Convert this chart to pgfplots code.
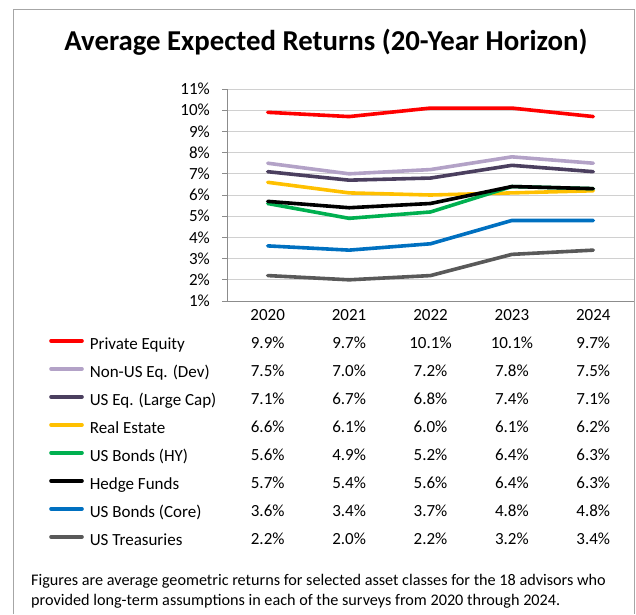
\documentclass[border=0pt]{standalone}
\usepackage{fontspec}
\setmainfont{Carlito}
\usepackage{pgfplots}
\usepackage{pgfplotstable}
\pgfplotsset{compat=1.18}
\definecolor{pe}{HTML}{FF0000}
\definecolor{nonus}{HTML}{B3A2C7}
\definecolor{useq}{HTML}{4B3F5F}
\definecolor{realest}{HTML}{FFC000}
\definecolor{hy}{HTML}{00B050}
\definecolor{hf}{HTML}{000000}
\definecolor{core}{HTML}{0070C0}
\definecolor{treas}{HTML}{595959}
\definecolor{gridc}{HTML}{D0D0D0}
\definecolor{axisc}{HTML}{8C8C8C}
\definecolor{framec}{HTML}{A6A6A6}

% returns in percent, x = 0..4 for 2020..2024
\pgfplotstableread{
x  pe   nonus useq realest hy  hf  core treas
0  9.9  7.5   7.1  6.6     5.6 5.7 3.6  2.2
1  9.7  7.0   6.7  6.1     4.9 5.4 3.4  2.0
2  10.1 7.2   6.8  6.0     5.2 5.6 3.7  2.2
3  10.1 7.8   7.4  6.1     6.4 6.4 4.8  3.2
4  9.7  7.5   7.1  6.2     6.3 6.3 4.8  3.4
}\returns

\begin{document}
\begin{tikzpicture}[x=1pt,y=1pt]
\useasboundingbox (0,0) rectangle (636,-614);
% chart frame (bottom edge is cut off in the reference)
\draw[framec, line width=1pt] (13,-614) -- (13,-9) -- (634,-9) -- (634,-614);
\node[font=\fontsize{28.8}{32}\selectfont\bfseries, anchor=base] at (326,-50.5)
  {Average Expected Returns (20-Year Horizon)};
\begin{axis}[
  at={(227pt,-301pt)}, anchor=south west,
  scale only axis, width=407pt, height=212pt,
  xmin=-0.5, xmax=4.5, ymin=1, ymax=11,
  axis lines=left, axis line style={-, draw=axisc, line width=0.8pt},
  ytick={1,...,11},
  yticklabel={\pgfmathprintnumber{\tick}\%},
  /pgf/number format/assume math mode=true,
  ymajorgrids, grid style={gridc, line width=0.8pt},
  tick align=outside, major tick length=5pt,
  ytick style={draw=axisc, line width=0.8pt},
  xtick={0,1,2,3,4},
  xtick style={draw=none},
  xticklabels={
    {2020\\9.9\%\\7.5\%\\7.1\%\\6.6\%\\5.6\%\\5.7\%\\3.6\%\\2.2\%},
    {2021\\9.7\%\\7.0\%\\6.7\%\\6.1\%\\4.9\%\\5.4\%\\3.4\%\\2.0\%},
    {2022\\10.1\%\\7.2\%\\6.8\%\\6.0\%\\5.2\%\\5.6\%\\3.7\%\\2.2\%},
    {2023\\10.1\%\\7.8\%\\7.4\%\\6.1\%\\6.4\%\\6.4\%\\4.8\%\\3.2\%},
    {2024\\9.7\%\\7.5\%\\7.1\%\\6.2\%\\6.3\%\\6.3\%\\4.8\%\\3.4\%}},
  xticklabel style={font=\fontsize{17}{28}\selectfont, align=center,
    anchor=north, inner sep=0pt, yshift=-3pt},
  yticklabel style={font=\fontsize{17}{20}\selectfont, anchor=east,
    inner sep=0pt, xshift=-12pt},
  every axis plot/.append style={line width=3.6pt, line cap=round, line join=round},
  legend image code/.code={\draw[#1] (0pt,4.5pt) -- (31pt,4.5pt);},
  legend style={at={(-0.4373,-0.1698)}, anchor=north west, draw=none, fill=none,
    inner sep=0pt, row sep=12pt, column sep=6pt,
    font=\fontsize{17}{20}\selectfont,
    nodes={inner sep=0pt, text height=12pt, text depth=4pt}},
  legend cell align=left,
  clip=false,
]
\addplot[pe]      table[x=x, y=pe]      {\returns};
\addplot[nonus]   table[x=x, y=nonus]   {\returns};
\addplot[useq]    table[x=x, y=useq]    {\returns};
\addplot[realest] table[x=x, y=realest] {\returns};
\addplot[hy]      table[x=x, y=hy]      {\returns};
\addplot[hf]      table[x=x, y=hf]      {\returns};
\addplot[core]    table[x=x, y=core]    {\returns};
\addplot[treas]   table[x=x, y=treas]   {\returns};
\legend{Private Equity, Non-US Eq. (Dev), US Eq. (Large Cap), Real Estate,
  US Bonds (HY), Hedge Funds, US Bonds (Core), US Treasuries}
\end{axis}
\node[font=\fontsize{16.2}{20}\selectfont, anchor=base west, align=left,
  inner sep=0pt] at (31,-605)
  {Figures are average geometric returns for selected asset classes for the 18 advisors who\\
   provided long-term assumptions in each of the surveys from 2020 through 2024.};
\end{tikzpicture}
\end{document}
